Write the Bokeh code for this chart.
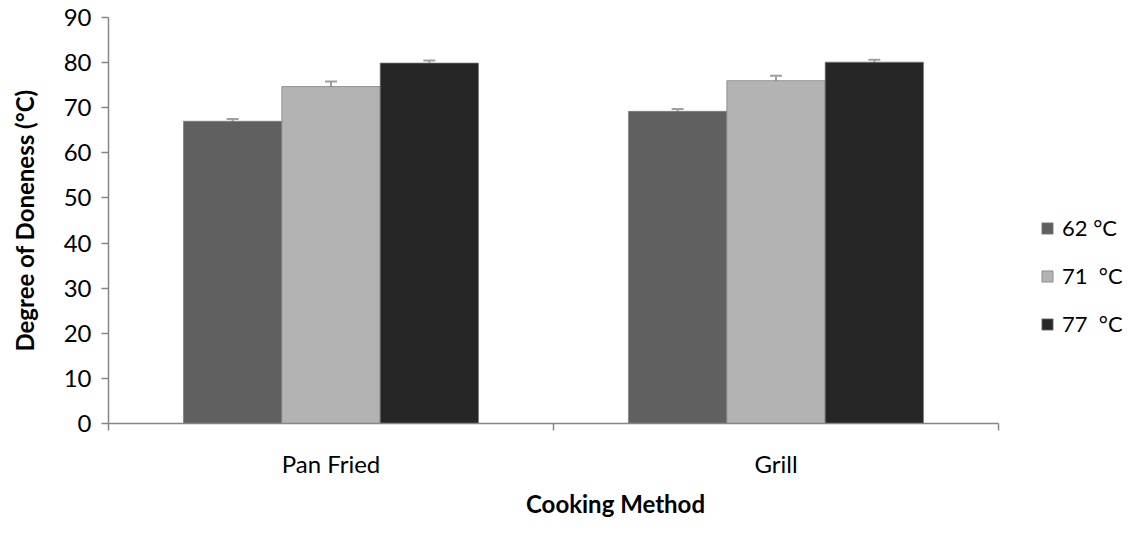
from bokeh.plotting import figure
from bokeh.models import (ColumnDataSource, Range1d, FixedTicker, Whisker, Legend, LegendItem)
from bokeh.transform import dodge
from bokeh.embed import file_html
from bokeh.resources import INLINE

# ---- data ----
methods = ["Pan Fried", "Grill"]
series = ["62 °C", "71  °C", "77  °C"]
temp62 = [67.0, 69.2]
temp71 = [74.7, 76.0]
temp77 = [79.9, 80.1]
err62 = [0.5, 0.5]
err71 = [1.1, 1.1]
err77 = [0.55, 0.55]
colors = ["#606060", "#b3b3b3", "#262626"]
y_ticks = [0, 10, 20, 30, 40, 50, 60, 70, 80, 90]

FONT = "Lato"
FS = "24px"
AXIS_COL = "#868686"

W, H = 1122, 520
LEFT, TOP, AX_RIGHT, AX_BOTTOM = 108, 17, 998, 423

n = len(methods)
centers = [i + 0.5 for i in range(n)]
# frame reaches the right edge so the legend can sit beside the axes
x_end = n * (W - LEFT) / (AX_RIGHT - LEFT)

p = figure(width=W, height=H, x_range=Range1d(0, x_end), y_range=Range1d(0, 90),
           output_backend="svg", toolbar_location=None, min_border_left=LEFT,
           min_border_right=0, min_border_top=TOP, min_border_bottom=H - AX_BOTTOM)
p.outline_line_color = None
p.xgrid.visible = False
p.ygrid.visible = False

xaxis = p.xaxis[0]
xaxis.bounds = (0, n)
xaxis.ticker = FixedTicker(ticks=centers, minor_ticks=list(range(n + 1)))
xaxis.major_label_overrides = {c: m for c, m in zip(centers, methods)}
xaxis.axis_label = "Cooking Method"
xaxis.axis_line_color = AXIS_COL
xaxis.axis_line_width = 1.5
xaxis.major_tick_out = 0
xaxis.major_tick_in = 0
xaxis.minor_tick_out = 7
xaxis.minor_tick_in = 0
xaxis.minor_tick_line_color = AXIS_COL
xaxis.minor_tick_line_width = 1.5
xaxis.major_label_standoff = 18
xaxis.major_label_text_font = FONT
xaxis.major_label_text_font_size = FS
xaxis.major_label_text_color = "#000000"
xaxis.axis_label_text_font = FONT
xaxis.axis_label_text_font_size = FS
xaxis.axis_label_text_font_style = "bold"
xaxis.axis_label_text_color = "#000000"
xaxis.axis_label_standoff = 8

yaxis = p.yaxis[0]
yaxis.ticker = FixedTicker(ticks=y_ticks)
yaxis.minor_tick_line_color = None
yaxis.major_tick_out = 7
yaxis.major_tick_in = 0
yaxis.axis_line_color = AXIS_COL
yaxis.axis_line_width = 1.5
yaxis.major_tick_line_color = AXIS_COL
yaxis.major_tick_line_width = 1.5
yaxis.major_label_text_font = FONT
yaxis.major_label_text_font_size = FS
yaxis.major_label_text_color = "#000000"
yaxis.major_label_standoff = 10
yaxis.axis_label = "Degree of Doneness (°C)"
yaxis.axis_label_text_font = FONT
yaxis.axis_label_text_font_size = FS
yaxis.axis_label_text_font_style = "bold"
yaxis.axis_label_text_color = "#000000"
yaxis.axis_label_standoff = 22

src = ColumnDataSource(dict(x=centers, t62=temp62, t71=temp71, t77=temp77,
                            lo62=[v - e for v, e in zip(temp62, err62)],
                            hi62=[v + e for v, e in zip(temp62, err62)],
                            lo71=[v - e for v, e in zip(temp71, err71)],
                            hi71=[v + e for v, e in zip(temp71, err71)],
                            lo77=[v - e for v, e in zip(temp77, err77)],
                            hi77=[v + e for v, e in zip(temp77, err77)]))

bw = 0.221
offsets = [-bw, 0.0, bw]
keys = ["62", "71", "77"]
renderers = []
for k, off, col in zip(keys, offsets, colors):
    r = p.vbar(x=dodge("x", off), top="t" + k, width=bw,
               source=src, fill_color=col, line_color="#7a7a7a", line_width=1, line_alpha=0.7)
    renderers.append(r)
    w = Whisker(source=src, base=dodge("x", off), upper="hi" + k,
                lower="lo" + k, line_color="#a0a0a0", line_width=2)
    w.upper_head.size = 12
    w.lower_head.size = 12
    w.upper_head.line_color = "#a0a0a0"
    w.lower_head.line_color = "#a0a0a0"
    w.upper_head.line_width = 2
    w.lower_head.line_width = 2
    p.add_layout(w)

legend = Legend(items=[LegendItem(label=s, renderers=[r]) for s, r in zip(series, renderers)],
                location=(932, 86), orientation="vertical")
legend.border_line_color = None
legend.background_fill_alpha = 0
legend.padding = 0
legend.margin = 0
legend.spacing = 21
legend.glyph_width = 14
legend.glyph_height = 14
legend.label_standoff = 8
legend.label_text_font = FONT
legend.label_text_font_size = "22px"
legend.label_text_color = "#000000"
p.add_layout(legend, "center")

open("out.html", "w").write(file_html(p, INLINE))
